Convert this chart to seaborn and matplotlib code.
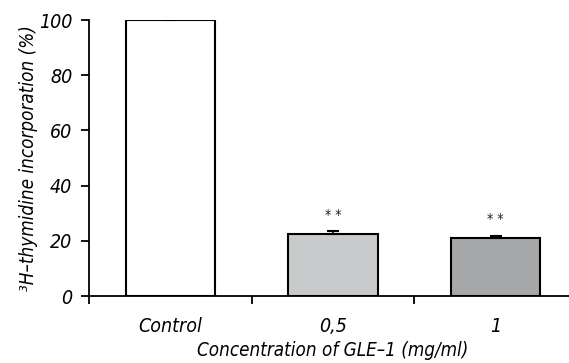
import matplotlib
matplotlib.use('Agg')
import matplotlib.pyplot as plt
from matplotlib import font_manager
import seaborn as sns
import pandas as pd
import numpy as np

# values
groups = ['Control', '0,5', '1']
incorporation = [100, 22.6, 21.1]
sem = [0.3, 0.8, 0.8]
stars = ['', '* *', '* *']
bar_colors = ['#ffffff', '#c9cacc', '#a6a7a9']

df = pd.DataFrame({'group': groups, 'value': incorporation})

sns.set_theme(style='ticks')
names = {f.name for f in font_manager.fontManager.ttflist}
fam = ['Liberation Sans Narrow'] if 'Liberation Sans Narrow' in names else ['DejaVu Sans']
plt.rcParams['font.family'] = fam + ['DejaVu Sans']
plt.rcParams['font.stretch'] = 'condensed'
plt.rcParams['text.color'] = 'black'
plt.rcParams['axes.labelcolor'] = 'black'
plt.rcParams['xtick.color'] = 'black'
plt.rcParams['ytick.color'] = 'black'

fig = plt.figure(figsize=(5.69, 3.63), dpi=100)
ax = fig.add_axes([89 / 569, 67 / 363, 488 / 569, 276 / 363])

sns.barplot(data=df, x='group', y='value', hue='group', palette=bar_colors,
            legend=False, width=0.55, edgecolor='black', linewidth=1.5,
            errorbar=None, ax=ax)
ax.errorbar(range(len(groups)), incorporation, yerr=[np.zeros(3), sem],
            fmt='none', ecolor='black', elinewidth=1.2, capsize=4, capthick=1.5)
for i, s in enumerate(stars):
    if s:
        ax.text(i, incorporation[i] + sem[i] + 3.5, s, ha='center', va='bottom',
                fontsize=10, color='#222222')

ax.set_xlim(-0.5, 2.5)
ax.set_ylim(0, 100)
ax.set_yticks([0, 20, 40, 60, 80, 100])
ax.set_xticks([-0.5, 0.5, 1.5, 2.5], minor=True)
ax.tick_params(axis='x', which='major', length=0, pad=15, labelsize=14)
ax.tick_params(axis='x', which='minor', length=6, width=1.3, direction='out')
ax.tick_params(axis='y', length=6, width=1.3, direction='out', labelsize=14, pad=6)
for lab in ax.get_xticklabels() + ax.get_yticklabels():
    lab.set_fontstyle('italic')

for side in ['top', 'right']:
    ax.spines[side].set_visible(False)
for side in ['left', 'bottom']:
    ax.spines[side].set_linewidth(1.3)
    ax.spines[side].set_color('black')

ax.set_xlabel('Concentration of GLE–1 (mg/ml)', fontsize=13.5, fontstyle='italic', labelpad=4)
ax.set_ylabel('³H–thymidine incorporation (%)', fontsize=13.5, fontstyle='italic', labelpad=1)

fig.savefig('out.png', dpi=100)
